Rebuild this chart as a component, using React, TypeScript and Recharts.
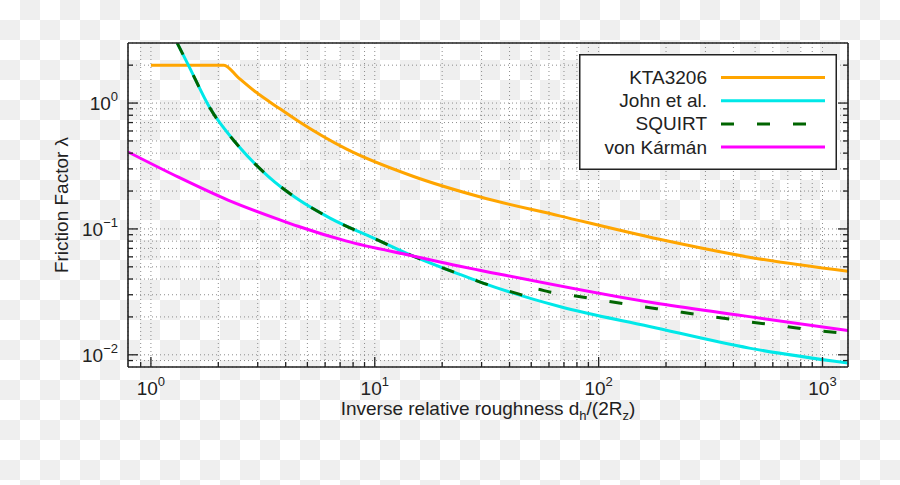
import { CartesianGrid, Legend, Line, LineChart, XAxis, YAxis } from "recharts";

// values (log-log)
const ktaX = [1, 2.12, 2.45, 2.91, 3.77, 4.54, 7.49, 14.8, 29.4, 66.9, 187, 471, 1300];
const ktaY = [2.0, 2.0, 1.6, 1.24, 0.9, 0.72, 0.43, 0.262, 0.18, 0.127, 0.0827, 0.0596, 0.046];

const johnX = [1.31, 1.47, 1.83, 2.45, 3.34, 4.54, 6.31, 10.5, 13.9, 24, 29.4, 66.9, 168.7, 471, 1300];
const johnY = [3.0, 2.0, 0.92, 0.46, 0.262, 0.172, 0.122, 0.0805, 0.064, 0.0435, 0.038, 0.0242, 0.0168, 0.0113, 0.0086];

const squirtX = [1.31, 1.47, 1.83, 2.45, 3.34, 4.54, 6.31, 10.5, 13.9, 24, 29.4, 46.7, 50, 51.5, 60.4, 71.7, 96, 140, 207, 302, 448, 652, 967, 1300];
const squirtY = [3.0, 2.0, 0.92, 0.46, 0.262, 0.172, 0.122, 0.0805, 0.064, 0.0435, 0.038, 0.0295, 0.0285, 0.0334, 0.0316, 0.0301, 0.0277, 0.0249, 0.0225, 0.0204, 0.0185, 0.017, 0.0155, 0.0148];

const karmanX = [0.79, 1.32, 2.21, 3.77, 4.54, 7.49, 14.8, 24, 29.4, 187, 471, 1300];
const karmanY = [0.409, 0.259, 0.1695, 0.118, 0.105, 0.08, 0.061, 0.0505, 0.047, 0.0254, 0.0201, 0.0156];

const xTicks = [0.9, 1, 2, 3, 4, 5, 6, 7, 8, 9, 10, 20, 30, 40, 50, 60, 70, 80, 90, 100, 200, 300, 400, 500, 600, 700, 800, 900, 1000];
const yTicks = [0.009, 0.01, 0.02, 0.03, 0.04, 0.05, 0.06, 0.07, 0.08, 0.09, 0.1, 0.2, 0.3, 0.4, 0.5, 0.6, 0.7, 0.8, 0.9, 1, 2];

const toPoints = (xs: number[], ys: number[]) => xs.map((x, i) => ({ x, y: ys[i] }));

const series = [
  { name: "KTA3206", color: "#ffa500", dash: undefined, data: toPoints(ktaX, ktaY) },
  { name: "John et al.", color: "#00e8e8", dash: undefined, data: toPoints(johnX, johnY) },
  { name: "SQUIRT", color: "#006400", dash: "13 23", data: toPoints(squirtX, squirtY) },
  { name: "von Kármán", color: "#ff00ff", dash: undefined, data: toPoints(karmanX, karmanY) },
];

const FONT = "'Liberation Sans', Arial, Helvetica, sans-serif";
const INK = "#222";

const isMajor = (v: number) => Math.abs(Math.log10(v) - Math.round(Math.log10(v))) < 1e-6;
const expText = (v: number) => {
  const e = Math.round(Math.log10(v));
  return e < 0 ? "\u2212" + -e : String(e);
};

const BottomTick = ({ x, y, payload }: any) => {
  const major = isMajor(payload.value);
  return (
    <g>
      <line x1={x} x2={x} y1={y} y2={y - (major ? 10 : 5)} stroke={INK} strokeWidth={1.3} />
      {major && (
        <text x={x} y={y + 28} textAnchor="middle" fontFamily={FONT} fontSize={19} fill={INK}>
          10
          <tspan dy={-9} fontSize={13}>{expText(payload.value)}</tspan>
        </text>
      )}
    </g>
  );
};

const TopTick = ({ x, y, payload }: any) => {
  const major = isMajor(payload.value);
  return <line x1={x} x2={x} y1={y} y2={y + (major ? 10 : 5)} stroke={INK} strokeWidth={1.3} />;
};

const LeftTick = ({ x, y, payload }: any) => {
  const major = isMajor(payload.value);
  return (
    <g>
      <line x1={x} x2={x + (major ? 10 : 5)} y1={y} y2={y} stroke={INK} strokeWidth={1.3} />
      {major && (
        <text x={x - 10} y={y + 7} textAnchor="end" fontFamily={FONT} fontSize={19} fill={INK}>
          10
          <tspan dy={-9} fontSize={13}>{expText(payload.value)}</tspan>
        </text>
      )}
    </g>
  );
};

const RightTick = ({ x, y, payload }: any) => {
  const major = isMajor(payload.value);
  return <line x1={x} x2={x - (major ? 10 : 5)} y1={y} y2={y} stroke={INK} strokeWidth={1.3} />;
};

const XLabel = ({ viewBox }: any) => (
  <text x={viewBox.x + viewBox.width / 2} y={viewBox.y + 48} textAnchor="middle" fontFamily={FONT} fontSize={19} fill={INK}>
    Inverse relative roughness d
    <tspan dy={5} fontSize={13}>h</tspan>
    <tspan dy={-5}>/(2R</tspan>
    <tspan dy={5} fontSize={13}>z</tspan>
    <tspan dy={-5}>)</tspan>
  </text>
);

const YLabel = ({ viewBox }: any) => {
  const cx = viewBox.x + viewBox.width - 67;
  const cy = viewBox.y + viewBox.height / 2;
  return (
    <text x={cx} y={cy} transform={`rotate(-90 ${cx} ${cy})`} textAnchor="middle" dominantBaseline="central" fontFamily={FONT} fontSize={19} fill={INK}>
      Friction Factor λ
    </text>
  );
};

const LegendBox = () => (
  <svg width={258} height={116} style={{ display: "block" }}>
    <rect x={0.75} y={0.75} width={256.5} height={114.5} fill="#fff" stroke={INK} strokeWidth={1.5} />
    {series.map((s, i) => {
      const cy = 23.5 + i * 23.2;
      return (
        <g key={s.name}>
          <text x={128} y={cy + 6.5} textAnchor="end" fontFamily={FONT} fontSize={19} fill={INK}>
            {s.name}
          </text>
          <line x1={142} x2={246} y1={cy} y2={cy} stroke={s.color} strokeWidth={3} strokeDasharray={s.dash} />
        </g>
      );
    })}
  </svg>
);

export default function App() {
  return (
    <div
      style={{
        position: "absolute",
        left: 0,
        top: 0,
        width: 900,
        height: 485,
        background: "repeating-conic-gradient(#efefef 0% 25%, #ffffff 0% 50%)",
        backgroundSize: "40px 40px",
      }}
    >
      <LineChart width={900} height={485} margin={{ top: 42, right: 51, bottom: 78, left: 68 }}>
        <CartesianGrid stroke="#8c8c8c" strokeDasharray="1 3" strokeWidth={1} />
        <XAxis
          dataKey="x"
          type="number"
          scale="log"
          domain={[0.79, 1300]}
          allowDataOverflow
          ticks={xTicks}
          interval={0}
          height={40}
          tickSize={0}
          tickMargin={0}
          tickLine={false}
          axisLine={{ stroke: INK, strokeWidth: 1.6 }}
          tick={(p: any) => <BottomTick {...p} />}
          label={(p: any) => <XLabel {...p} />}
        />
        <XAxis
          xAxisId="top"
          orientation="top"
          type="number"
          scale="log"
          domain={[0.79, 1300]}
          allowDataOverflow
          ticks={xTicks}
          interval={0}
          height={1}
          tickSize={0}
          tickMargin={0}
          tickLine={false}
          axisLine={{ stroke: INK, strokeWidth: 1.6 }}
          tick={(p: any) => <TopTick {...p} />}
        />
        <YAxis
          dataKey="y"
          type="number"
          scale="log"
          domain={[0.008, 3]}
          allowDataOverflow
          ticks={yTicks}
          interval={0}
          width={60}
          tickSize={0}
          tickMargin={0}
          tickLine={false}
          axisLine={{ stroke: INK, strokeWidth: 1.6 }}
          tick={(p: any) => <LeftTick {...p} />}
          label={(p: any) => <YLabel {...p} />}
        />
        <YAxis
          yAxisId="right"
          orientation="right"
          type="number"
          scale="log"
          domain={[0.008, 3]}
          allowDataOverflow
          ticks={yTicks}
          interval={0}
          width={1}
          tickSize={0}
          tickMargin={0}
          tickLine={false}
          axisLine={{ stroke: INK, strokeWidth: 1.6 }}
          tick={(p: any) => <RightTick {...p} />}
        />
        {series.map((s) => (
          <Line
            key={s.name}
            name={s.name}
            data={s.data}
            dataKey="y"
            type="monotone"
            stroke={s.color}
            strokeWidth={3}
            strokeDasharray={s.dash}
            dot={false}
            activeDot={false}
            isAnimationActive={false}
          />
        ))}
        <Legend
          layout="horizontal"
          verticalAlign="middle"
          align="center"
          wrapperStyle={{ left: 579, top: 54, width: 258, height: 116 }}
          content={() => <LegendBox />}
        />
      </LineChart>
    </div>
  );
}
